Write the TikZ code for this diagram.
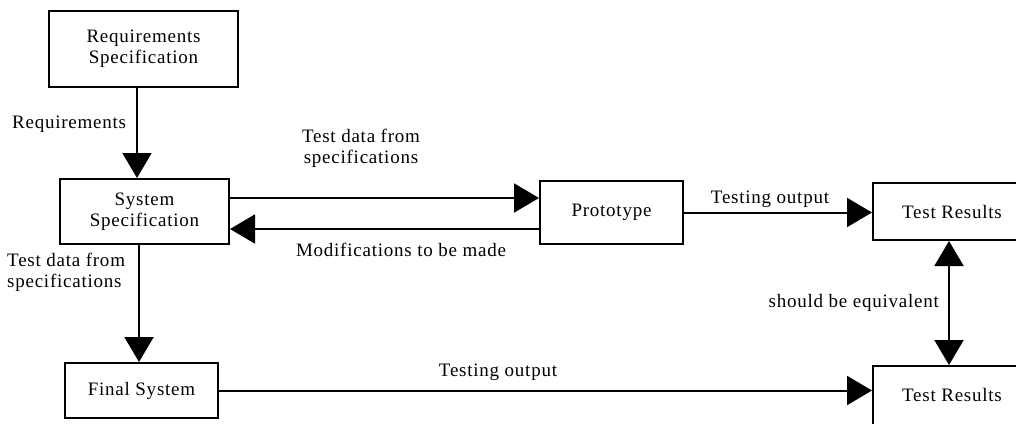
\documentclass[tikz,border=0pt]{standalone}
\usepackage{fontspec}
\setmainfont[LetterSpace=4]{Liberation Serif}
\usetikzlibrary{arrows.meta,calc}

\tikzset{
  box/.style={draw, line width=2pt, inner sep=0pt, align=center,
    font=\fontsize{19}{21}\selectfont},
  lbl/.style={inner sep=0pt, align=left, font=\fontsize{19}{21}\selectfont},
  flow/.style={line width=2pt, -{Triangle[width=29pt,length=25pt]}},
  both/.style={line width=2pt, {Triangle[width=29pt,length=25pt]}-{Triangle[width=29pt,length=25pt]}},
}

\begin{document}
\begin{tikzpicture}[x=1pt,y=-1pt]
\useasboundingbox (0,0) rectangle (1016,423);
\clip (0,0) rectangle (1016,423);

% boxes
\node[box, minimum width=189pt, minimum height=76pt] (req) at (143.5,49) {Requirements\\Specification};
\node[box, minimum width=169pt, minimum height=65pt] (sys) at (144.5,211.5) {System\\Specification};
\node[box, minimum width=153pt, minimum height=55pt] (fin) at (141.5,390.5) {Final System};
\node[box, minimum width=143pt, minimum height=63pt] (proto) at (611.5,212.5) {Prototype};
\node[box, minimum width=158pt, minimum height=57pt] (tr1) at (952,211.5) {Test Results};
\node[box, minimum width=158pt, minimum height=66pt] (tr2) at (952,399) {};
\node[lbl, anchor=base] (tr2t) at (952,401) {Test Results};

% connectors
\draw[flow] ([xshift=-6.5pt]req.south) -- ([xshift=-6.5pt]req.south |- sys.north);
\draw[flow] ([xshift=-5.5pt]sys.south) -- ([xshift=-5.5pt]sys.south |- fin.north);
\draw[flow] ([yshift=13.5pt]sys.east) -- ([yshift=13.5pt]sys.east -| proto.west);
\draw[flow] ([yshift=-16.5pt]proto.west) -- ([yshift=-16.5pt]proto.west -| sys.east);
\draw[flow] (proto.east) -- (proto.east -| tr1.west);
\draw[flow] (fin.east) -- (fin.east -| tr2.west);
\draw[both] ([xshift=-3pt]tr1.south) -- ([xshift=-3pt]tr2.north);

% labels
\node[lbl, anchor=base west] (lreq) at (12,128) {Requirements};
\node[lbl, anchor=base west] (ltd1) at (7,287) {Test data from\\specifications};
\node[lbl, anchor=base, align=center] (ltd2) at (361,163) {Test data from\\specifications};
\node[lbl, anchor=base] (lmod) at (401,256) {Modifications to be made};
\node[lbl, anchor=base] (lout1) at (770,203) {Testing output};
\node[lbl, anchor=base east] (leq) at (939,307) {should be equivalent};
\node[lbl, anchor=base] (lout2) at (498,376) {Testing output};
\end{tikzpicture}
\end{document}
